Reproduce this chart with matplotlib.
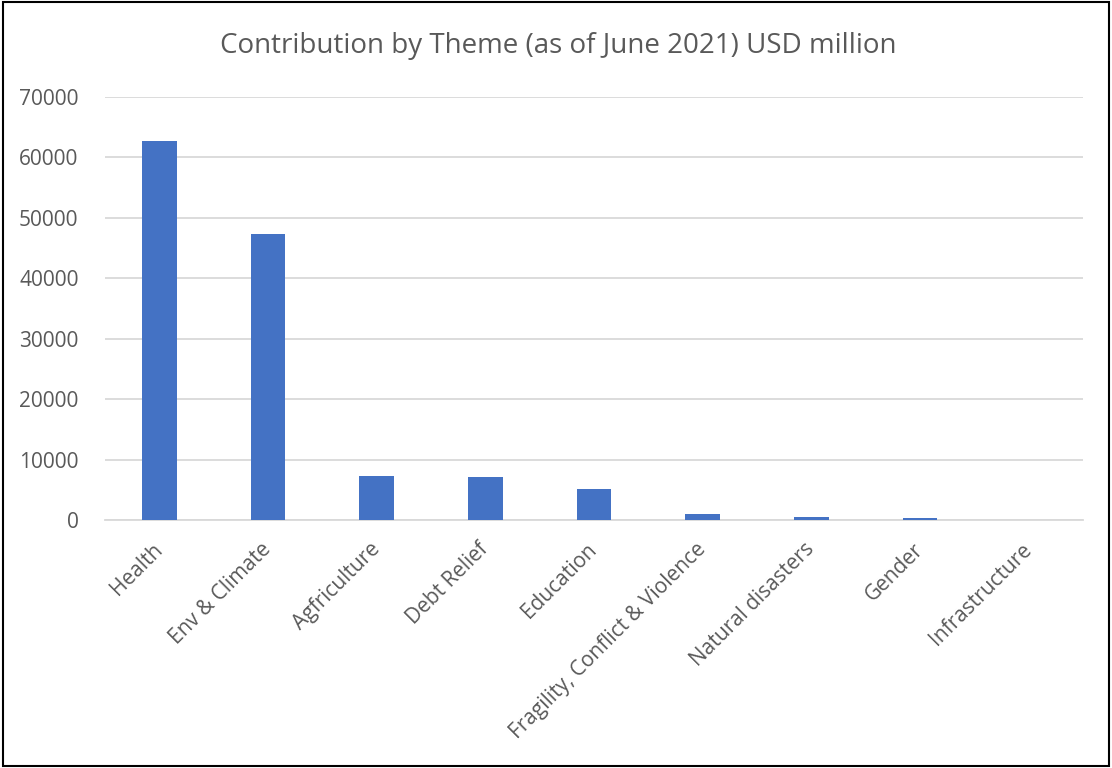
import numpy as np
import matplotlib.pyplot as plt
from matplotlib.patches import Rectangle

themes = ["Health", "Env & Climate", "Agfriculture", "Debt Relief", "Education",
          "Fragility, Conflict & Violence", "Natural disasters", "Gender",
          "Infrastructure"]
contribution = [62800, 47400, 7300, 7100, 5150, 1000, 450, 300, 60]
y_ticks = [0, 10000, 20000, 30000, 40000, 50000, 60000, 70000]

text_color = "#595959"
plt.rcParams['font.family'] = ['Open Sans', 'DejaVu Sans']

fig = plt.figure(figsize=(11.12, 7.68), dpi=100)
ax = fig.add_axes([105 / 1112, 1 - 520 / 768, 978 / 1112, 423 / 768])

x = np.arange(len(themes))
ax.bar(x, contribution, width=0.32, color="#4472C4", zorder=3)

ax.set_xlim(-0.5, len(themes) - 0.5)
ax.set_ylim(0, 70000)
ax.set_yticks(y_ticks)
ax.set_yticklabels([str(v) for v in y_ticks], color=text_color, fontsize=15)
ax.set_xticks(x)
ax.set_xticklabels(themes, rotation=45, ha='right', va='center',
                   rotation_mode='anchor', color=text_color, fontsize=15)
ax.tick_params(axis='x', length=0, pad=19)
ax.tick_params(axis='y', length=0, pad=19)
ax.grid(axis='y', color="#D9D9D9", linewidth=1.3, zorder=0)
for side in ['top', 'right', 'left']:
    ax.spines[side].set_visible(False)
ax.spines['bottom'].set_color("#D9D9D9")
ax.spines['bottom'].set_linewidth(1.3)

fig.text(558 / 1112, 1 - 46 / 768, "Contribution by Theme (as of June 2021) USD million",
         ha='center', va='center', fontsize=20, color=text_color)

fig.patches.append(Rectangle((0.003, 0.003), 0.994, 0.994, transform=fig.transFigure,
                             fill=False, edgecolor='black', linewidth=1.5))

fig.savefig("out.png", dpi=100)
